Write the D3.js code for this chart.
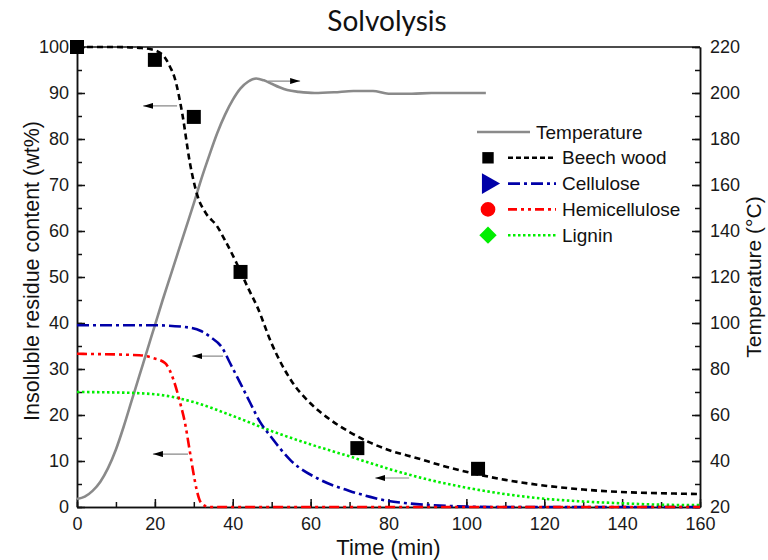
<!DOCTYPE html>
<html lang="en">
  <head>
    <meta charset="UTF-8" />
    <title>Solvolysis</title>
    <script src="https://d3js.org/d3.v7.min.js"></script>
    <style>
      body {
        margin: 0;
        background: #fff;
      }
      svg {
        display: block;
        font-family: "Liberation Sans", Arial, sans-serif;
      }
      .axis path,
      .axis line {
        stroke: #111;
        stroke-width: 1.5px;
      }
      .axis text {
        font-size: 18px;
        fill: #1a1a1a;
      }
      .curve {
        fill: none;
        stroke-width: 2.6px;
      }
      .legend text {
        font-size: 19px;
        fill: #111;
      }
    </style>
  </head>
  <body>
    <svg id="chart" width="768" height="560"></svg>

    <script>
      // -------------------------------------------------------------------
      // DATA
      // -------------------------------------------------------------------
      const xTicks = [0, 20, 40, 60, 80, 100, 120, 140, 160];
      const leftTicks = [0, 10, 20, 30, 40, 50, 60, 70, 80, 90, 100];
      const rightTicks = [20, 40, 60, 80, 100, 120, 140, 160, 180, 200, 220];

      // temperature (right axis, °C)
      const tempTime = [0, 2, 4, 6, 8, 10, 12, 14, 16, 18, 20, 22, 24, 26, 28, 30, 32, 34, 36, 38, 40, 42, 44, 46, 48, 50, 52, 54, 57, 61, 66, 71, 76, 80, 86, 91, 98, 105];
      const tempValues = [23.5, 24.5, 27, 31, 37, 45, 55, 66, 77, 88, 99, 110, 120.5, 131, 141.5, 152, 163, 173, 182.5, 190.5, 197, 202, 205, 206.3, 205.5, 204, 202.5, 201.3, 200.5, 200, 200.3, 200.9, 200.9, 199.7, 199.7, 200, 200, 200];

      // model curves (left axis, wt%)
      const beechTime = [0, 10, 16, 19, 22, 24, 25, 27, 29, 31, 33, 36, 38, 41, 44, 46.3, 50, 55, 60, 65, 70, 75, 80, 87.4, 95, 102.8, 110, 121.6, 130, 138.8, 150, 160];
      const beechValues = [100, 100, 99.8, 99.5, 98.3, 95.5, 93.5, 85.7, 74.8, 67.5, 64, 61, 58, 53, 47.5, 43.5, 35.5, 27.5, 22.5, 19, 16.3, 14.1, 12.4, 10.6, 8.7, 7.1, 5.9, 4.5, 3.8, 3.3, 3, 2.8];

      const celluloseTime = [0, 20, 29, 32, 34.2, 37.3, 39.3, 41.9, 44.5, 47, 49.6, 54.8, 62.5, 70, 75.3, 80, 85, 91, 100, 110, 160];
      const celluloseValues = [39.5, 39.5, 39, 38.2, 37, 34.6, 31.3, 27, 22.6, 18.5, 15.5, 10.2, 5.9, 3.5, 2.2, 1.3, 0.8, 0.4, 0.1, 0, 0];

      const hemiTime = [0, 16, 19.5, 22.6, 24.8, 26.5, 27.8, 28.8, 29.9, 30.8, 31.6, 33, 34, 160];
      const hemiValues = [33.3, 33, 32.4, 31.3, 27.6, 22.6, 18, 13, 7.4, 3.5, 1.3, 0.2, 0, 0];

      const ligninTime = [0, 10, 20, 30, 40, 50, 60, 70, 80, 90, 100, 110, 120, 130, 140, 150, 160];
      const ligninValues = [25, 24.9, 24.5, 22.8, 19.8, 16.5, 13.6, 11, 8.3, 6, 4.2, 2.8, 1.8, 1.2, 0.8, 0.5, 0.4];

      // experimental points (beech wood)
      const expTime = [0, 20, 30, 42, 72, 103];
      const expValues = [100, 97.2, 84.8, 51.1, 12.8, 8.3];

      // arrows pointing to the axis each curve belongs to: [from t, to t, y (wt%)]
      const arrows = [
        [25.7, 17, 87.2],
        [49.1, 57.3, 92.6],
        [37.5, 29.6, 32.8],
        [28.5, 19.5, 11.5],
        [85.3, 76.6, 6.3],
      ];

      const legendNames = ["Temperature", "Beech wood", "Cellulose", "Hemicellulose", "Lignin"];

      // -------------------------------------------------------------------
      // SETUP
      // -------------------------------------------------------------------
      const svg = d3.select("#chart");
      const margin = { top: 47, right: 68, bottom: 53, left: 77 };
      const width = 768 - margin.left - margin.right;
      const height = 560 - margin.top - margin.bottom;

      const x = d3.scaleLinear().domain([0, 160]).range([0, width]);
      const yL = d3.scaleLinear().domain([0, 100]).range([height, 0]);
      const yR = d3.scaleLinear().domain([20, 220]).range([height, 0]);

      const g = svg
        .append("g")
        .attr("transform", `translate(${margin.left},${margin.top})`);

      svg
        .append("defs")
        .append("marker")
        .attr("id", "head")
        .attr("viewBox", "0 0 10 6")
        .attr("refX", 10)
        .attr("refY", 3)
        .attr("markerWidth", 10)
        .attr("markerHeight", 6)
        .attr("markerUnits", "userSpaceOnUse")
        .attr("orient", "auto")
        .append("path")
        .attr("d", "M0,0L10,3L0,6Z")
        .attr("fill", "#000");

      // -------------------------------------------------------------------
      // AXES (ticks point inward)
      // -------------------------------------------------------------------
      const minorX = d3.range(0, 161, 10);
      const minorL = d3.range(0, 101, 5);
      const minorR = d3.range(20, 221, 10);

      g.append("g")
        .attr("class", "axis")
        .attr("transform", `translate(0,${height})`)
        .call(d3.axisBottom(x).tickValues(minorX).tickSize(-5).tickSizeOuter(0).tickFormat(""));
      g.append("g")
        .attr("class", "axis")
        .attr("transform", `translate(0,${height})`)
        .call(d3.axisBottom(x).tickValues(xTicks).tickSize(-8).tickSizeOuter(0).tickPadding(10));

      g.append("g")
        .attr("class", "axis")
        .call(d3.axisLeft(yL).tickValues(minorL).tickSize(-5).tickSizeOuter(0).tickFormat(""));
      g.append("g")
        .attr("class", "axis")
        .call(d3.axisLeft(yL).tickValues(leftTicks).tickSize(-8).tickSizeOuter(0).tickPadding(8));

      g.append("g")
        .attr("class", "axis")
        .attr("transform", `translate(${width},0)`)
        .call(d3.axisRight(yR).tickValues(minorR).tickSize(-5).tickSizeOuter(0).tickFormat(""));
      g.append("g")
        .attr("class", "axis")
        .attr("transform", `translate(${width},0)`)
        .call(d3.axisRight(yR).tickValues(rightTicks).tickSize(-8).tickSizeOuter(0).tickPadding(10));

      // top frame line
      g.append("line")
        .attr("x1", 0)
        .attr("x2", width)
        .attr("y1", 0)
        .attr("y2", 0)
        .attr("stroke", "#111")
        .attr("stroke-width", 1.5);

      // axis titles
      svg
        .append("text")
        .attr("x", margin.left + width / 2)
        .attr("y", 555)
        .attr("text-anchor", "middle")
        .attr("font-size", 22)
        .attr("fill", "#111")
        .text("Time (min)");

      svg
        .append("text")
        .attr("transform", `translate(39,${margin.top + height / 2 - 6}) rotate(-90)`)
        .attr("text-anchor", "middle")
        .attr("font-size", 21.5)
        .attr("fill", "#111")
        .text("Insoluble residue content (wt%)");

      svg
        .append("text")
        .attr("transform", `translate(761,${margin.top + height / 2}) rotate(-90)`)
        .attr("text-anchor", "middle")
        .attr("font-size", 21)
        .attr("fill", "#111")
        .text("Temperature (°C)");

      svg
        .append("text")
        .attr("x", 387)
        .attr("y", 31)
        .attr("text-anchor", "middle")
        .attr("font-family", "Lato, 'Open Sans', sans-serif")
        .attr("font-size", 28)
        .attr("fill", "#111")
        .text("Solvolysis");

      // -------------------------------------------------------------------
      // CURVES
      // -------------------------------------------------------------------
      const lineL = d3
        .line()
        .x((d) => x(d[0]))
        .y((d) => yL(d[1]))
        .curve(d3.curveMonotoneX);
      const lineR = d3
        .line()
        .x((d) => x(d[0]))
        .y((d) => yR(d[1]))
        .curve(d3.curveMonotoneX);

      const zip = (a, b) => a.map((t, i) => [t, b[i]]);

      const series = [
        { t: ligninTime, v: ligninValues, color: "#00ee00", dash: "2.5,2.5" },
        { t: celluloseTime, v: celluloseValues, color: "#0000a8", dash: "12,4,3,4" },
        { t: hemiTime, v: hemiValues, color: "#ff0000", dash: "10,4,3,4,3,4" },
        { t: beechTime, v: beechValues, color: "#000", dash: "6,4" },
      ];

      g.append("path")
        .datum(zip(tempTime, tempValues))
        .attr("class", "curve")
        .attr("stroke", "#8a8a8a")
        .attr("d", lineR);

      g.selectAll(".model")
        .data(series)
        .join("path")
        .attr("class", "curve model")
        .attr("stroke", (d) => d.color)
        .attr("stroke-dasharray", (d) => d.dash)
        .attr("d", (d) => lineL(zip(d.t, d.v)));

      // experimental squares
      g.selectAll(".exp")
        .data(zip(expTime, expValues))
        .join("rect")
        .attr("class", "exp")
        .attr("x", (d) => x(d[0]) - 7)
        .attr("y", (d) => yL(d[1]) - 7)
        .attr("width", 14)
        .attr("height", 14)
        .attr("fill", "#000");

      // arrows
      g.selectAll(".arrow")
        .data(arrows)
        .join("line")
        .attr("class", "arrow")
        .attr("x1", (d) => x(d[0]))
        .attr("x2", (d) => x(d[1]))
        .attr("y1", (d) => yL(d[2]))
        .attr("y2", (d) => yL(d[2]))
        .attr("stroke", "#888")
        .attr("stroke-width", 1.2)
        .attr("marker-end", "url(#head)");

      // -------------------------------------------------------------------
      // LEGEND
      // -------------------------------------------------------------------
      const legendItems = [
        { color: "#8a8a8a", dash: null, symbol: null },
        { color: "#000", dash: "5,3", symbol: d3.symbolSquare, rot: 0, size: 130 },
        { color: "#0000a8", dash: "12,4,3,4", symbol: d3.symbolTriangle, rot: 90, size: 190 },
        { color: "#ff0000", dash: "9,4,3,4,3,4", symbol: d3.symbolCircle, rot: 0, size: 170 },
        { color: "#00ee00", dash: "2.5,2.5", symbol: d3.symbolSquare, rot: 45, size: 150 },
      ];

      const legend = svg.append("g").attr("class", "legend");
      const rows = legend
        .selectAll("g")
        .data(legendNames)
        .join("g")
        .attr("transform", (d, i) => `translate(0,${132 + i * 25.8})`);

      rows
        .append("line")
        .attr("x1", (d, i) => (i === 0 ? 477 : 508))
        .attr("x2", (d, i) => (i === 0 ? 530 : 556))
        .attr("stroke", (d, i) => legendItems[i].color)
        .attr("stroke-width", 2.6)
        .attr("stroke-dasharray", (d, i) => legendItems[i].dash);

      rows
        .filter((d, i) => legendItems[i].symbol)
        .append("path")
        .attr("transform", (d) => {
          const it = legendItems[legendNames.indexOf(d)];
          return `translate(488,0) rotate(${it.rot})`;
        })
        .attr("d", (d) => {
          const it = legendItems[legendNames.indexOf(d)];
          return d3.symbol().type(it.symbol).size(it.size)();
        })
        .attr("fill", (d) => legendItems[legendNames.indexOf(d)].color);

      rows
        .append("text")
        .attr("x", (d, i) => (i === 0 ? 536 : 562))
        .attr("dy", "0.35em")
        .text((d) => d);
    </script>
  </body>
</html>
